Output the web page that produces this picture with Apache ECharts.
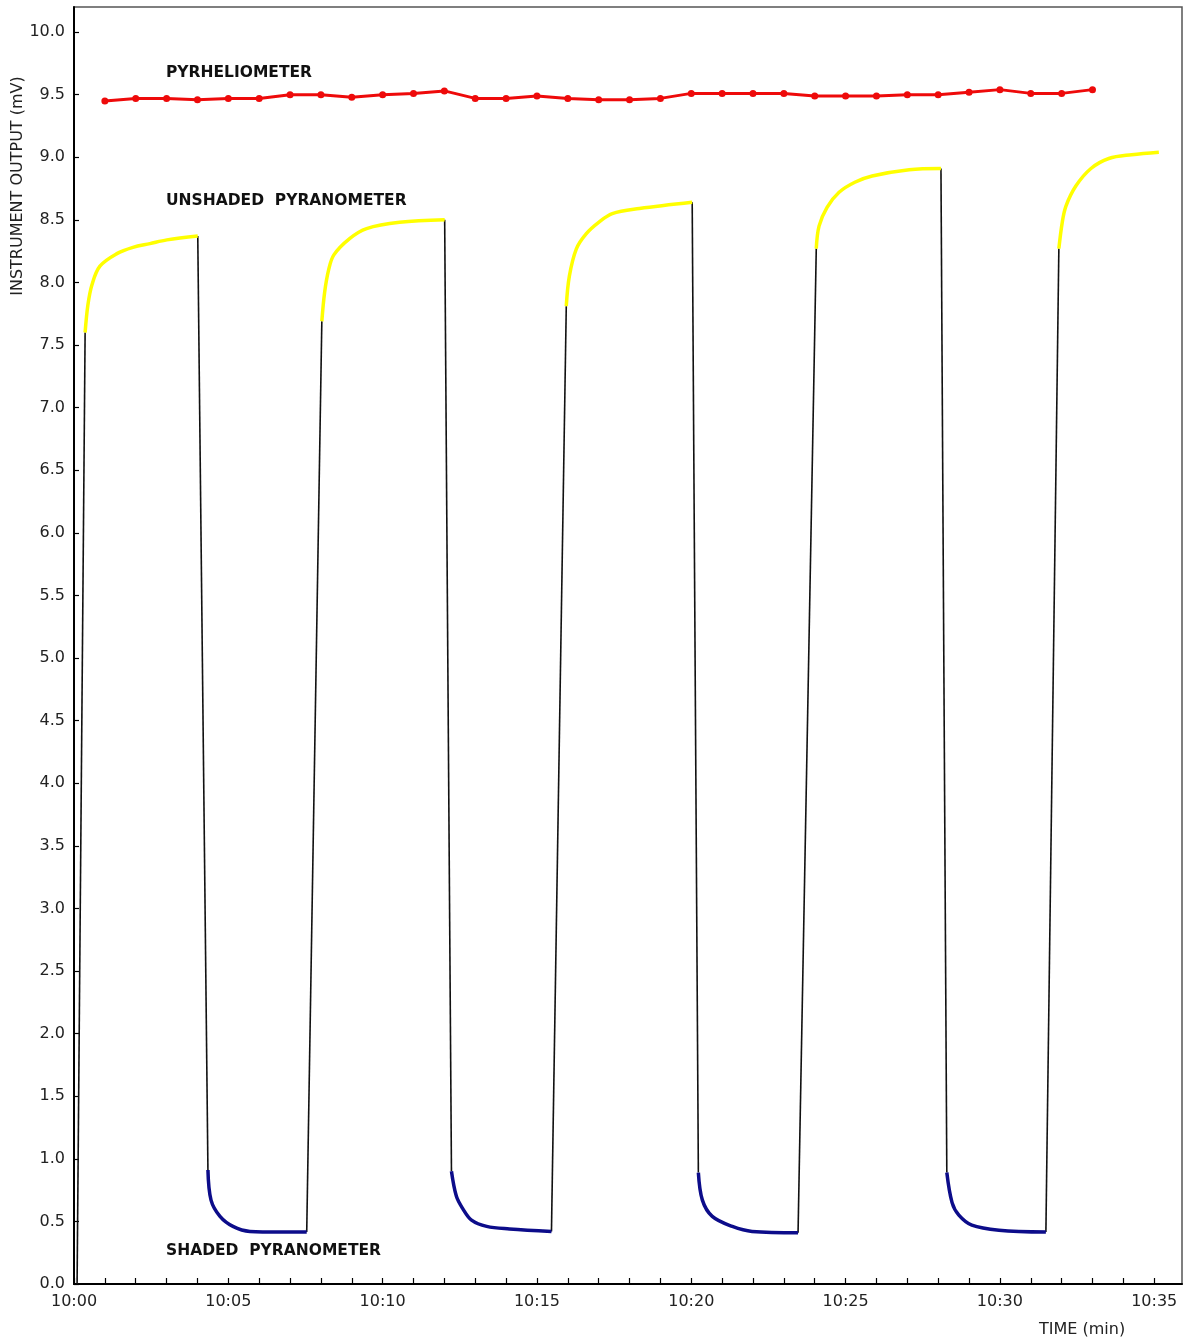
<!DOCTYPE html>
<html>
<head>
<meta charset="utf-8">
<script src="https://cdn.jsdelivr.net/npm/echarts@6/dist/echarts.min.js"></script>
<style>html,body{margin:0;padding:0;background:#fff}#c{width:1184px;height:1341px}</style>
</head>
<body>
<div id="c"></div>
<script>
// Time in minutes after 10:00, values in mV
const pyrTimes = [1,2,3,4,5,6,7,8,9,10,11,12,13,14,15,16,17,18,19,20,21,22,23,24,25,26,27,28,29,30,31,32,33];
const pyrValues = [9.45,9.47,9.47,9.46,9.47,9.47,9.50,9.50,9.48,9.50,9.51,9.53,9.47,9.47,9.49,9.47,9.46,9.46,9.47,9.51,9.51,9.51,9.51,9.49,9.49,9.49,9.50,9.50,9.52,9.54,9.51,9.51,9.54];

// Unshaded pyranometer segments (yellow)
const unshaded1 = [[0.36,7.60],[0.45,7.82],[0.58,7.98],[0.84,8.13],[1.39,8.23],[1.91,8.28],[2.46,8.31],[3.01,8.34],[4.01,8.37]];
const unshaded2 = [[8.03,7.69],[8.12,7.92],[8.25,8.10],[8.42,8.22],[8.93,8.35],[9.48,8.43],[10.55,8.48],[12.01,8.50]];
const unshaded3 = [[15.95,7.81],[16.05,8.05],[16.28,8.27],[16.60,8.39],[17.00,8.48],[17.44,8.55],[18.32,8.59],[20.03,8.64]];
const unshaded4 = [[24.05,8.27],[24.14,8.45],[24.40,8.60],[24.79,8.72],[25.30,8.80],[25.86,8.85],[27.06,8.90],[28.09,8.91]];
const unshaded5 = [[31.91,8.27],[32.02,8.48],[32.14,8.61],[32.46,8.77],[32.95,8.91],[33.53,8.99],[34.27,9.02],[35.15,9.04]];

// Shaded pyranometer segments (blue)
const shaded1 = [[4.34,0.91],[4.44,0.67],[4.73,0.54],[5.15,0.46],[5.70,0.42],[6.67,0.415],[7.54,0.415]];
const shaded2 = [[12.23,0.90],[12.39,0.70],[12.60,0.60],[12.88,0.51],[13.37,0.46],[14.11,0.44],[15.47,0.42]];
const shaded3 = [[20.23,0.89],[20.36,0.67],[20.68,0.54],[21.33,0.46],[21.97,0.42],[23.46,0.41]];
const shaded4 = [[28.28,0.89],[28.45,0.65],[28.67,0.55],[29.09,0.47],[29.97,0.43],[31.49,0.415]];

// Start of record (black trace rising from zero)
const startPoint = [0.10, 0.0];

const unshadedSegs = [unshaded1, unshaded2, unshaded3, unshaded4, unshaded5];
const shadedSegs = [shaded1, shaded2, shaded3, shaded4];

// Ordered list of coloured segments; black transitions join consecutive ones
const ordered = [];
for (let i = 0; i < unshadedSegs.length; i++) {
  ordered.push(unshadedSegs[i]);
  if (shadedSegs[i]) ordered.push(shadedSegs[i]);
}
const transitions = [[startPoint, ordered[0][0]]];
for (let i = 0; i < ordered.length - 1; i++) {
  transitions.push([ordered[i][ordered[i].length - 1], ordered[i + 1][0]]);
}

const font = 'DejaVu Sans, Verdana, sans-serif';
const series = [];
transitions.forEach(t => series.push({
  type: 'line', data: t, symbol: 'none',
  lineStyle: { color: '#111', width: 1.6 }, z: 2, animation: false
}));
unshadedSegs.forEach(s => series.push({
  type: 'line', data: s, symbol: 'none', smooth: 0.35,
  lineStyle: { color: '#ffff00', width: 3.5 }, z: 3, animation: false
}));
shadedSegs.forEach(s => series.push({
  type: 'line', data: s, symbol: 'none', smooth: 0.35,
  lineStyle: { color: '#0c0c8a', width: 3.5 }, z: 3, animation: false
}));
series.push({
  type: 'line', data: pyrTimes.map((t, i) => [t, pyrValues[i]]),
  symbol: 'circle', symbolSize: 7,
  itemStyle: { color: '#ee0a0a' },
  lineStyle: { color: '#ee0a0a', width: 3 }, z: 4, animation: false
});

const pad = n => (n < 10 ? '0' : '') + n;

const chart = echarts.init(document.getElementById('c'));
chart.setOption({
  animation: false,
  grid: { left: 74, right: 2, top: 7, bottom: 57, show: true, borderColor: '#555', borderWidth: 1.5 },
  xAxis: {
    type: 'value', min: 0, max: 35.9, interval: 1,
    axisLine: { onZero: false, lineStyle: { color: '#000', width: 2 } },
    axisTick: { inside: true, length: 6, lineStyle: { color: '#000', width: 1.2 } },
    splitLine: { show: false },
    axisLabel: {
      color: '#222', fontFamily: font, fontSize: 16, margin: 10,
      showMaxLabel: false,
      formatter: v => (Math.abs(v % 5) < 1e-6 ? '10:' + pad(Math.round(v)) : '')
    }
  },
  yAxis: {
    type: 'value', min: 0, max: 10.2, interval: 0.5,
    axisLine: { lineStyle: { color: '#000', width: 2 } },
    axisTick: { inside: true, length: 5, lineStyle: { color: '#000', width: 1.2 } },
    splitLine: { show: false },
    axisLabel: {
      color: '#222', fontFamily: font, fontSize: 16, margin: 9,
      showMaxLabel: false,
      formatter: v => (Math.abs(v * 2 - Math.round(v * 2)) < 1e-6 ? v.toFixed(1) : '')
    }
  },
  graphic: [
    { type: 'text', left: 166, top: 65, style: { text: 'PYRHELIOMETER', font: 'bold 15.5px ' + font, fill: '#111' } },
    { type: 'text', left: 166, top: 193, style: { text: 'UNSHADED  PYRANOMETER', font: 'bold 15.5px ' + font, fill: '#111' } },
    { type: 'text', left: 166, top: 1243, style: { text: 'SHADED  PYRANOMETER', font: 'bold 15.5px ' + font, fill: '#111' } },
    { type: 'text', left: 1039, top: 1322, style: { text: 'TIME (min)', font: '16px ' + font, fill: '#222' } },
    { type: 'text', x: 18, y: 186, rotation: Math.PI / 2,
      style: { text: 'INSTRUMENT OUTPUT (mV)', font: '16px ' + font, fill: '#222', align: 'center', verticalAlign: 'middle' } }
  ],
  series: series
});
</script>
</body>
</html>
